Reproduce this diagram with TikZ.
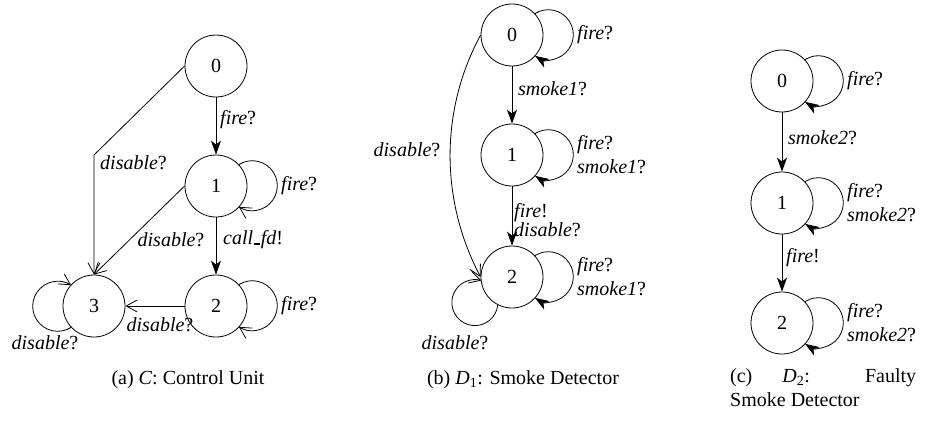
\documentclass[tikz,border=0pt]{standalone}
\usepackage{fontspec}
\setmainfont{Liberation Serif}
\usetikzlibrary{arrows.meta}
\newcommand{\ubar}{\kern0.8pt\rule[-0.5pt]{6pt}{2.6pt}\kern0.8pt}
\begin{document}
\begin{tikzpicture}[
  x=1pt,y=1pt,
  font=\fontsize{20}{24}\selectfont,
  state/.style={draw, circle, minimum size=62pt, inner sep=0pt, line width=0.8pt},
  lbl/.style={inner sep=0pt},
  fa/.style={-{Stealth[length=14pt,width=10pt,inset=4pt]}, line width=0.8pt},
  oa/.style={-{Straight Barb[length=11pt,width=12pt]}, line width=0.8pt},
]
\useasboundingbox (0,0) rectangle (927,-423);

% ---------- (a) Control Unit ----------
\node[state] (a0) at (216,-66) {0};
\node[state] (a1) at (216,-186) {1};
\node[state] (a2) at (216,-306) {2};
\node[state] (a3) at (94,-306) {3};
\coordinate (abend) at (94,-155);
\draw[fa] (a0) -- (a1);
\draw[fa] (a1) -- (a2);
\draw[oa] (a0.west) -- (abend) -- (a3.north);
\draw[oa] (a1.west) -- (a3.north);
\draw[oa] (a2) -- (a3);
\draw[oa] (a1.43) arc[start angle=122.3, end angle=-122.3, radius=25pt];
\draw[oa] (a2.43) arc[start angle=122.3, end angle=-122.3, radius=25pt];
\draw[oa] (a3.-137) arc[start angle=-57.7, end angle=-302.3, radius=25pt];
\node[lbl, anchor=west] (la01) at (220,-120) {\textit{fire}?};
\node[lbl, anchor=west] (la03) at (100,-163) {\textit{disable}?};
\node[lbl] (la13) at (171,-240) {\textit{disable}?};
\node[lbl, anchor=west] (la12) at (223,-240) {\textit{call\ubar fd}!};
\node[lbl] (la23) at (160,-325) {\textit{disable}?};
\node[lbl, anchor=west] (la11) at (281,-186) {\textit{fire}?};
\node[lbl, anchor=west] (la22) at (281,-306) {\textit{fire}?};
\node[lbl] (la33) at (45,-343) {\textit{disable}?};
\node (capa) at (188,-380) {(a) \textit{C}: Control Unit};

% ---------- (b) Smoke Detector ----------
\node[state] (b0) at (512,-35) {0};
\node[state] (b1) at (512,-155) {1};
\node[state] (b2) at (512,-277) {2};
\draw[fa] (b0) -- (b1);
\draw[fa] (b1) -- (b2);
\draw[fa] (b0.43) arc[start angle=122.3, end angle=-122.3, radius=25pt];
\draw[fa] (b1.43) arc[start angle=122.3, end angle=-122.3, radius=25pt];
\draw[fa] (b2.43) arc[start angle=122.3, end angle=-122.3, radius=25pt];
\draw[oa] (b2.243) arc[start angle=-5.9, end angle=-286.4, radius=23pt];
\draw[oa] (b0.west) .. controls (440,-110) and (440,-200) .. (b2.west);
\node[lbl, anchor=west] (lb00) at (577,-35) {\textit{fire}?};
\node[lbl, anchor=west] (lb01) at (518,-89) {\textit{smoke1}?};
\node[lbl, anchor=west, align=left] (lb11) at (577,-155) {\textit{fire}?\\\textit{smoke1}?};
\node[lbl, anchor=west, align=left] (lb12) at (514,-220) {\textit{fire}!\\[-5pt]\textit{disable}?};
\node[lbl, anchor=west, align=left] (lb22) at (577,-277) {\textit{fire}?\\\textit{smoke1}?};
\node[lbl] (lb2l) at (455,-343) {\textit{disable}?};
\node[lbl] (lb02) at (407,-150) {\textit{disable}?};
\node (capb) at (523,-380) {(b) \textit{D}\textsubscript{1}: Smoke Detector};

% ---------- (c) Faulty Smoke Detector ----------
\node[state] (c0) at (782,-81) {0};
\node[state] (c1) at (782,-203) {1};
\node[state] (c2) at (782,-323) {2};
\draw[fa] (c0) -- (c1);
\draw[fa] (c1) -- (c2);
\draw[fa] (c0.43) arc[start angle=122.3, end angle=-122.3, radius=25pt];
\draw[fa] (c1.43) arc[start angle=122.3, end angle=-122.3, radius=25pt];
\draw[fa] (c2.43) arc[start angle=122.3, end angle=-122.3, radius=25pt];
\node[lbl, anchor=west] (lc00) at (847,-81) {\textit{fire}?};
\node[lbl, anchor=west] (lc01) at (788,-138) {\textit{smoke2}?};
\node[lbl, anchor=west, align=left] (lc11) at (847,-203) {\textit{fire}?\\\textit{smoke2}?};
\node[lbl, anchor=west] (lc12) at (786,-258) {\textit{fire}!};
\node[lbl, anchor=west, align=left] (lc22) at (847,-323) {\textit{fire}?\\\textit{smoke2}?};
\node[lbl, anchor=north west] (capc) at (730,-368) {\parbox[t]{186pt}{(c)\hspace{30pt}\textit{D}\textsubscript{2}:\hfill Faulty\\Smoke Detector}};
\end{tikzpicture}
\end{document}
